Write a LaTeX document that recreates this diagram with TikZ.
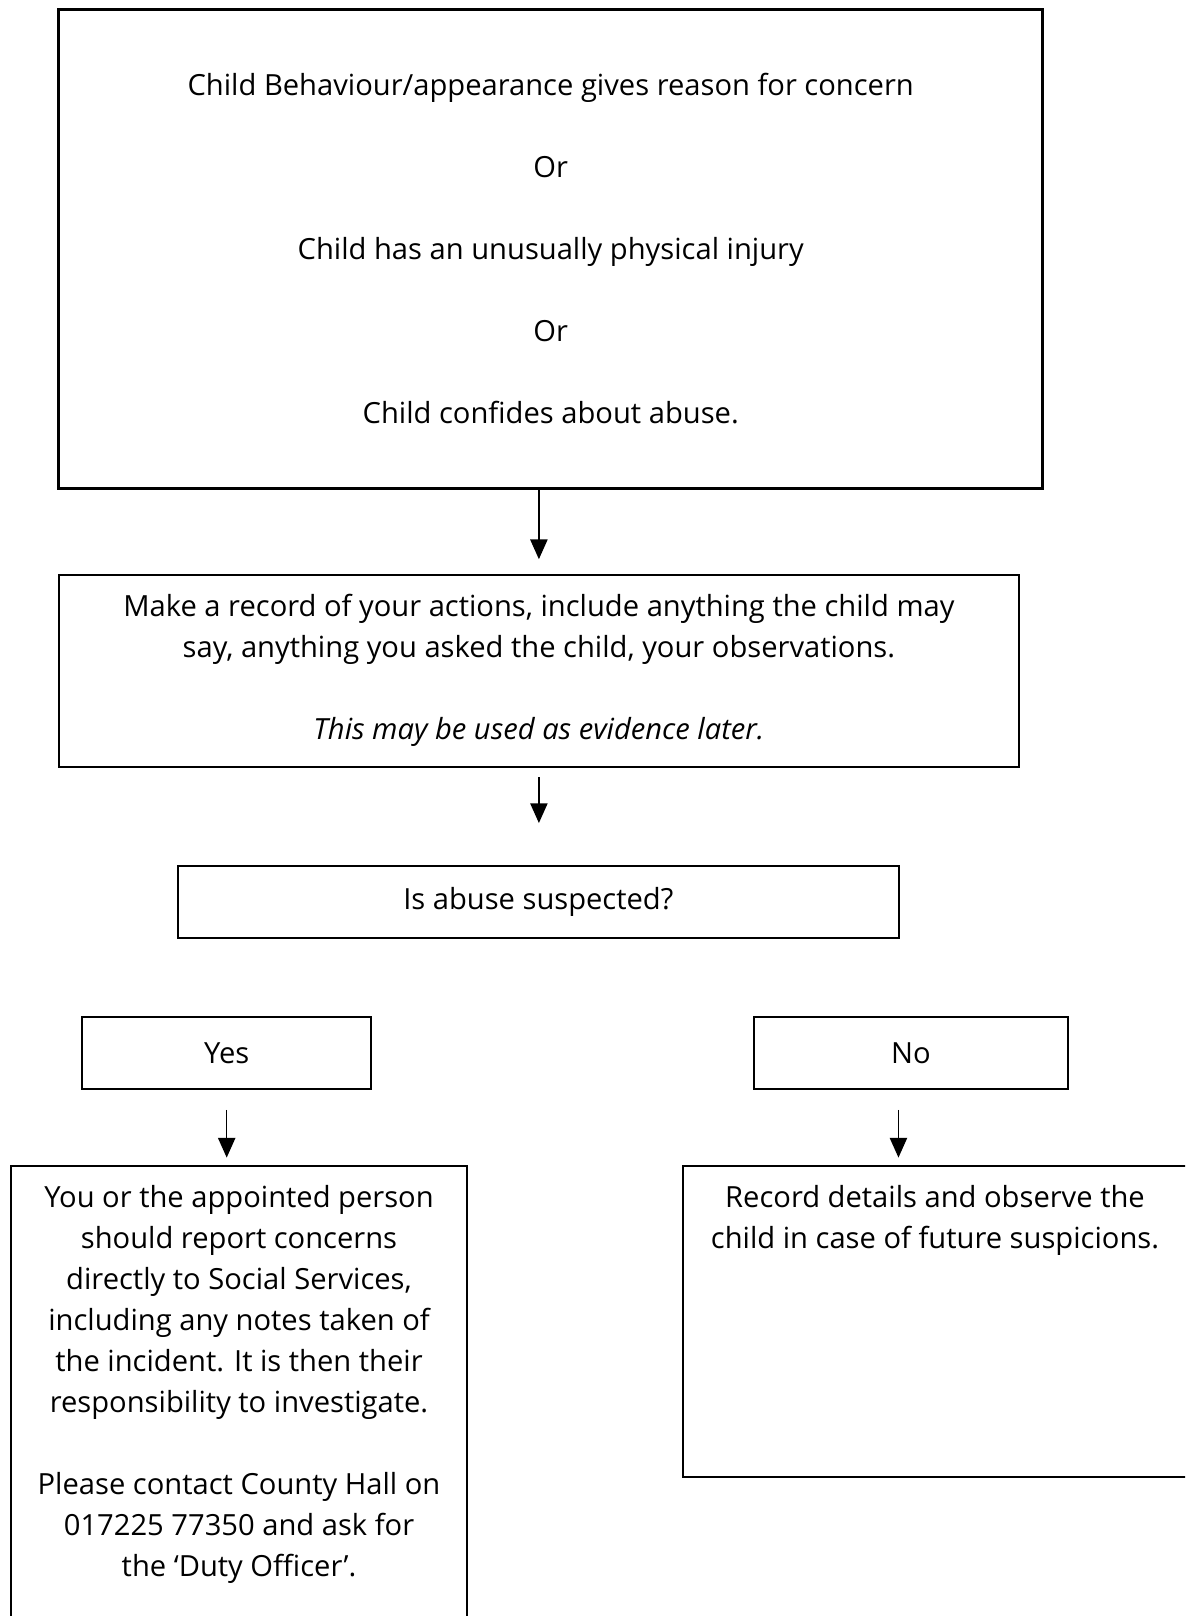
\documentclass[tikz,border=0pt]{standalone}
\usepackage{fontspec}
\setmainfont{Open Sans}
\usetikzlibrary{arrows.meta}
\newcommand{\pxu}{0.405pt}

\begin{document}
\begin{tikzpicture}[x=\pxu,y=-\pxu,
    every node/.style={font=\fontsize{11.8}{16.6}\selectfont},
    box/.style={draw,line width=0.8pt,align=center,inner sep=0pt},
    arr/.style={-{Triangle[length=8pt,width=7pt]},line width=0.6pt}]
  \clip (0,0) rectangle (1185,1616);
  \node[box,line width=1pt,minimum width=984*\pxu,minimum height=479*\pxu] (concern) at (550.7,248.9)
    {Child Behaviour/appearance gives reason for concern\\[16.6pt]Or\\[16.6pt]Child has an unusually physical injury\\[16.6pt]Or\\[16.6pt]Child confides about abuse.};
  \node[box,minimum width=960.3*\pxu,minimum height=191.6*\pxu] (record) at (538.9,670.8)
    {Make a record of your actions, include anything the child may\\say, anything you asked the child, your observations.\\[16.6pt]\itshape This may be used as evidence later.};
  \node[box,minimum width=720.5*\pxu,minimum height=72*\pxu] (suspect) at (538.3,902) {Is abuse suspected?};
  \node[box,minimum width=288.6*\pxu,minimum height=72*\pxu] (yes) at (226.7,1053) {Yes};
  \node[box,minimum width=313.5*\pxu,minimum height=72*\pxu] (no) at (910.8,1053) {No};
  \node[box,anchor=north west] (report) at (10,1165)
    {\parbox[t][210pt][t]{184.7pt}{\centering\vspace*{8pt}You or the appointed person\\should report concerns\\directly to Social Services,\\including any notes taken of\\the incident. It is then their\\responsibility to investigate.\\[16.6pt]Please contact County Hall on\\017225 77350 and ask for\\the ‘Duty Officer’.}};
  \node[box,anchor=north west] (observe) at (682,1165)
    {\parbox[t][126pt][t]{204.1pt}{\centering\vspace*{8pt}Record details and observe the\\child in case of future suspicions.}};
  \draw[arr,shorten >=6pt] (concern.south -| record.north) -- (record.north);
  \draw[arr,shorten <=4pt,shorten >=17pt] (record.south) -- (record.south |- suspect.north);
  \draw[arr,shorten <=8pt,shorten >=3pt] (yes.south) -- (yes.south |- report.north);
  \draw[arr,shorten <=8pt,shorten >=3pt] ([xshift=-5pt]no.south) -- ([xshift=-5pt]no.south |- observe.north);
\end{tikzpicture}
\end{document}
